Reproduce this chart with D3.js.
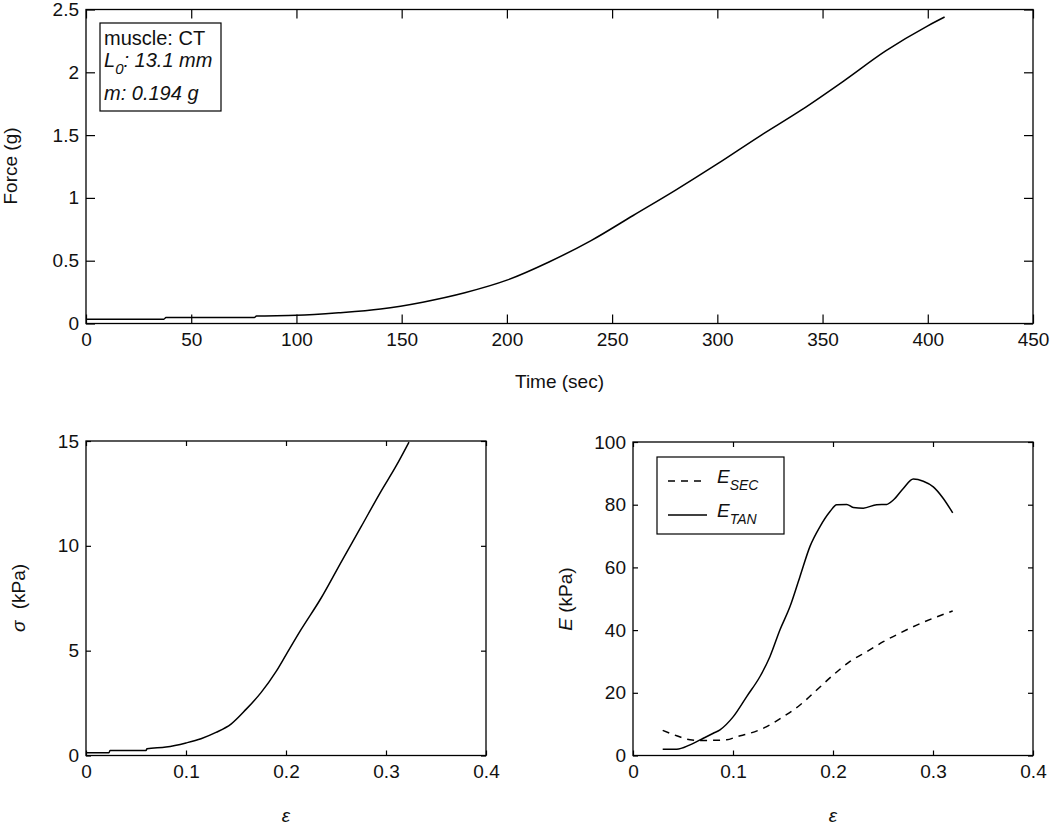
<!DOCTYPE html>
<html>
<head>
<meta charset="utf-8">
<script src="https://cdn.jsdelivr.net/npm/d3@7"></script>
<style>
  html, body { margin: 0; padding: 0; background: #fff; }
  svg { display: block; font-family: "Liberation Sans", Arial, sans-serif; }
</style>
</head>
<body>
<svg id="chart" width="1050" height="825"></svg>
<script>
// ---------- DATA ----------
// Top panel: Force (g) vs Time (sec)
const timeSec = [0, 37, 38, 80, 81, 100, 120, 140, 160, 180, 200, 220, 240, 260, 280, 300, 320, 340, 360, 380, 400, 408];
const forceG  = [0.034, 0.034, 0.048, 0.048, 0.06, 0.065, 0.085, 0.115, 0.17, 0.245, 0.345, 0.49, 0.66, 0.86, 1.06, 1.27, 1.49, 1.70, 1.93, 2.17, 2.37, 2.44];

// Bottom-left: stress (kPa) vs strain
const strainS = [0, 0.023, 0.024, 0.06, 0.061, 0.08, 0.1, 0.115, 0.13, 0.145, 0.16, 0.175, 0.19, 0.2, 0.215, 0.235, 0.256, 0.275, 0.295, 0.31, 0.323];
const stressKPa = [0.13, 0.13, 0.24, 0.24, 0.32, 0.4, 0.6, 0.8, 1.1, 1.5, 2.2, 3.0, 4.0, 4.8, 6.0, 7.5, 9.3, 10.9, 12.6, 13.8, 14.95];

// Bottom-right: tangent modulus E_TAN (kPa) vs strain
const strainTan = [0.0297, 0.0437, 0.057, 0.0703, 0.0803, 0.087, 0.1003, 0.1137, 0.127, 0.137, 0.147, 0.157, 0.167, 0.177, 0.187, 0.197, 0.2037, 0.2137, 0.2203, 0.2303, 0.2437, 0.2537, 0.2603, 0.2703, 0.2803, 0.2903, 0.3003, 0.3103, 0.3197];
const eTan = [2.0, 2.0, 3.4, 5.5, 7.1, 8.2, 12.4, 18.8, 25.2, 31.6, 40.1, 47.5, 57.1, 66.7, 73.0, 77.8, 80.0, 80.1, 79.1, 78.9, 80.0, 80.1, 81.5, 85.2, 88.2, 87.5, 85.7, 82.0, 77.4];

// Bottom-right: secant modulus E_SEC (kPa) vs strain
const strainSec = [0.0297, 0.0437, 0.057, 0.0703, 0.0937, 0.1037, 0.117, 0.1337, 0.1503, 0.167, 0.1837, 0.2003, 0.217, 0.2337, 0.2503, 0.2667, 0.2837, 0.3003, 0.3197];
const eSec = [8.0, 6.3, 5.0, 4.8, 5.0, 6.0, 7.1, 9.2, 12.4, 16.1, 20.9, 25.7, 30.0, 33.1, 36.3, 39.0, 41.6, 43.8, 46.1];

// Tick labels
const timeTicks = [0, 50, 100, 150, 200, 250, 300, 350, 400, 450];
const forceTicks = [0, 0.5, 1, 1.5, 2, 2.5];
const strainTicks = [0, 0.1, 0.2, 0.3, 0.4];
const stressTicks = [0, 5, 10, 15];
const modulusTicks = [0, 20, 40, 60, 80, 100];

// Annotation / legend texts
const infoMuscle = "muscle: CT";
const infoL0 = ": 13.1 mm";
const infoMass = "m: 0.194 g";
const legendNames = ["SEC", "TAN"];

// ---------- DRAW ----------
const svg = d3.select("#chart");
const fmt = d => String(d);
const FS = 19;
const INK = "#111";

function panel(box, xDom, yDom, xt, yt, tickLen) {
  const x = d3.scaleLinear().domain(xDom).range([box.l, box.r]);
  const y = d3.scaleLinear().domain(yDom).range([box.b, box.t]);
  const g = svg.append("g");
  const W = box.r - box.l, H = box.b - box.t;

  const styleAxis = sel => {
    sel.select(".domain").remove();
    sel.selectAll("line").attr("stroke", "#000").attr("stroke-width", 1.2);
    sel.selectAll("text").attr("font-size", FS).attr("fill", INK)
       .attr("font-family", "'Liberation Sans', Arial, sans-serif");
  };
  g.append("g").attr("transform", `translate(0,${box.b})`)
    .call(d3.axisBottom(x).tickValues(xt).tickFormat(fmt).tickSizeInner(-tickLen).tickSizeOuter(0).tickPadding(9))
    .call(styleAxis);
  g.append("g").attr("transform", `translate(0,${box.t})`)
    .call(d3.axisTop(x).tickValues(xt).tickFormat("").tickSizeInner(-tickLen).tickSizeOuter(0))
    .call(styleAxis);
  g.append("g").attr("transform", `translate(${box.l},0)`)
    .call(d3.axisLeft(y).tickValues(yt).tickFormat(fmt).tickSizeInner(-tickLen).tickSizeOuter(0).tickPadding(7))
    .call(styleAxis);
  g.append("g").attr("transform", `translate(${box.r},0)`)
    .call(d3.axisRight(y).tickValues(yt).tickFormat("").tickSizeInner(-tickLen).tickSizeOuter(0))
    .call(styleAxis);
  g.append("rect").attr("x", box.l).attr("y", box.t).attr("width", W).attr("height", H)
    .attr("fill", "none").attr("stroke", "#000").attr("stroke-width", 1.3);
  return { x, y, g };
}

function drawLine(p, xs, ys, dash) {
  const pts = xs.map((v, i) => [v, ys[i]]);
  const line = d3.line().x(d => p.x(d[0])).y(d => p.y(d[1])).curve(d3.curveMonotoneX);
  p.g.append("path").datum(pts).attr("d", line)
    .attr("fill", "none").attr("stroke", "#000").attr("stroke-width", 1.5)
    .attr("stroke-dasharray", dash || null);
}

// Top panel
const pTop = panel({ l: 86, r: 1033, t: 9.5, b: 323.5 }, [0, 450], [0, 2.5], timeTicks, forceTicks, 9);
drawLine(pTop, timeSec, forceG);

// Bottom-left panel
const pBL = panel({ l: 86, r: 486, t: 441, b: 755.5 }, [0, 0.4], [0, 15], strainTicks, stressTicks, 5);
drawLine(pBL, strainS, stressKPa);

// Bottom-right panel
const pBR = panel({ l: 633, r: 1033, t: 442, b: 755.5 }, [0, 0.4], [0, 100], strainTicks, modulusTicks, 5);
drawLine(pBR, strainSec, eSec, "7,6");
drawLine(pBR, strainTan, eTan);

// Axis titles
svg.append("text").attr("x", 559.5).attr("y", 388).attr("text-anchor", "middle")
  .attr("font-size", FS).attr("fill", INK).text("Time (sec)");
svg.append("text").attr("transform", "translate(17,166) rotate(-90)").attr("text-anchor", "middle")
  .attr("font-size", FS).attr("fill", INK).text("Force (g)");

const sig = svg.append("text").attr("transform", "translate(25,598) rotate(-90)").attr("text-anchor", "middle")
  .attr("font-size", FS).attr("fill", INK);
sig.append("tspan").attr("font-style", "italic").text("σ");
sig.append("tspan").attr("dx", 6).text(" (kPa)");

const eLab = svg.append("text").attr("transform", "translate(572,599) rotate(-90)").attr("text-anchor", "middle")
  .attr("font-size", FS).attr("fill", INK);
eLab.append("tspan").attr("font-style", "italic").text("E");
eLab.append("tspan").text(" (kPa)");

svg.append("text").attr("x", 286).attr("y", 822).attr("text-anchor", "middle")
  .attr("font-size", FS).attr("font-style", "italic").attr("fill", INK).text("ε");
svg.append("text").attr("x", 833).attr("y", 822).attr("text-anchor", "middle")
  .attr("font-size", FS).attr("font-style", "italic").attr("fill", INK).text("ε");

// Info box in top panel
svg.append("rect").attr("x", 100).attr("y", 23).attr("width", 121).attr("height", 88)
  .attr("fill", "#fff").attr("stroke", "#000").attr("stroke-width", 1.2);
svg.append("text").attr("x", 104).attr("y", 45).attr("font-size", 20).attr("fill", INK).text(infoMuscle);
const l0 = svg.append("text").attr("x", 104).attr("y", 67).attr("font-size", 20).attr("font-style", "italic").attr("fill", INK);
l0.append("tspan").text("L");
l0.append("tspan").attr("font-size", 15).attr("dy", 7).text("0");
l0.append("tspan").attr("dy", -7).text(infoL0);
svg.append("text").attr("x", 104).attr("y", 100).attr("font-size", 20).attr("font-style", "italic").attr("fill", INK).text(infoMass);

// Legend in bottom-right panel
svg.append("rect").attr("x", 657).attr("y", 457).attr("width", 127).attr("height", 77)
  .attr("fill", "#fff").attr("stroke", "#000").attr("stroke-width", 1.2);
const legY = [481, 515];
const legDash = ["7,6", null];
legendNames.forEach((nm, i) => {
  svg.append("line").attr("x1", 668).attr("x2", 707).attr("y1", legY[i]).attr("y2", legY[i])
    .attr("stroke", "#000").attr("stroke-width", 1.4).attr("stroke-dasharray", legDash[i]);
  const t = svg.append("text").attr("x", 717).attr("y", legY[i] + 2).attr("font-size", FS)
    .attr("font-style", "italic").attr("fill", INK);
  t.append("tspan").text("E");
  t.append("tspan").attr("font-size", 14).attr("dy", 7).text(nm);
});
</script>
</body>
</html>
